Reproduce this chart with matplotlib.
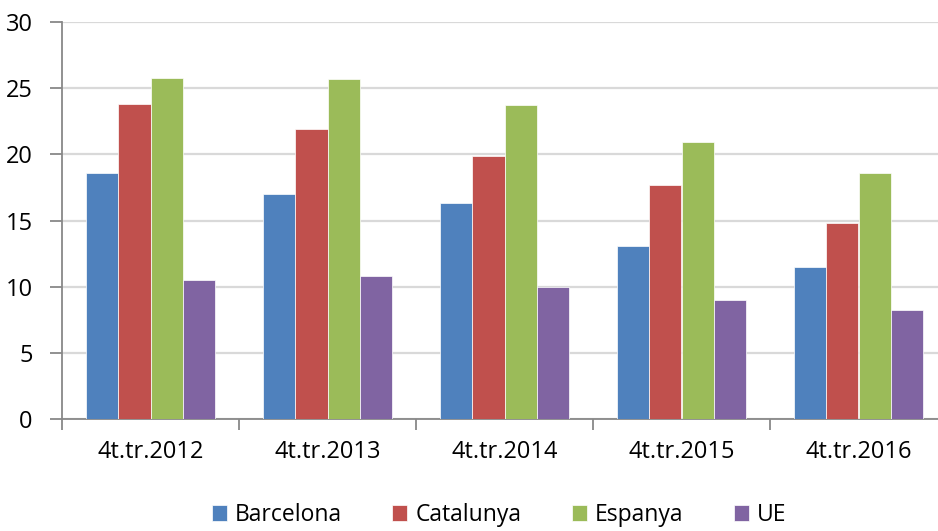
import matplotlib
matplotlib.use("Agg")
import matplotlib.pyplot as plt
import numpy as np

periods = ["4t.tr.2012", "4t.tr.2013", "4t.tr.2014", "4t.tr.2015", "4t.tr.2016"]
barcelona = [18.6, 17.0, 16.3, 13.1, 11.5]
catalunya = [23.8, 21.9, 19.9, 17.7, 14.8]
espanya = [25.8, 25.7, 23.7, 20.9, 18.6]
ue = [10.5, 10.8, 10.0, 9.0, 8.2]

series = [
    ("Barcelona", barcelona, "#4F81BD"),
    ("Catalunya", catalunya, "#C0504D"),
    ("Espanya", espanya, "#9BBB59"),
    ("UE", ue, "#8064A2"),
]

plt.rcParams["font.family"] = ["Open Sans", "DejaVu Sans"]

fig = plt.figure(figsize=(9.38, 5.31), dpi=100)
ax = fig.add_axes([62 / 938, 1 - 419 / 531, 885 / 938, 397 / 531])

x = np.arange(len(periods))
w = 0.182
for i, (name, vals, color) in enumerate(series):
    ax.bar(x + (i - 1.5) * w, vals, width=w, color=color, label=name,
           edgecolor="white", linewidth=0.5, zorder=3)

ax.set_xlim(-0.5, len(periods) - 0.5)
ax.set_ylim(0, 30)
ax.set_yticks(range(0, 31, 5))
ax.yaxis.grid(True, color="#d9d9d9", linewidth=1.6, zorder=0)

ax.set_xticks(x)
ax.set_xticklabels(periods)
ax.set_xticks(np.arange(-0.5, len(periods), 1.0), minor=True)
ax.tick_params(axis="x", which="major", length=0, pad=15, labelsize=17)
ax.tick_params(axis="x", which="minor", length=8, width=1.3, color="#888888")
ax.tick_params(axis="y", length=9, width=1.3, color="#888888", labelsize=17, pad=12)

for side in ("top", "right"):
    ax.spines[side].set_visible(False)
for side in ("left", "bottom"):
    ax.spines[side].set_color("#888888")
    ax.spines[side].set_linewidth(1.3)

fig.legend(loc="center", bbox_to_anchor=(0.532, 0.03), ncol=4, frameon=False,
           fontsize=16.5, handlelength=0.65, handleheight=0.65, handletextpad=0.35,
           columnspacing=2.2)

fig.savefig("out.png", dpi=100)
